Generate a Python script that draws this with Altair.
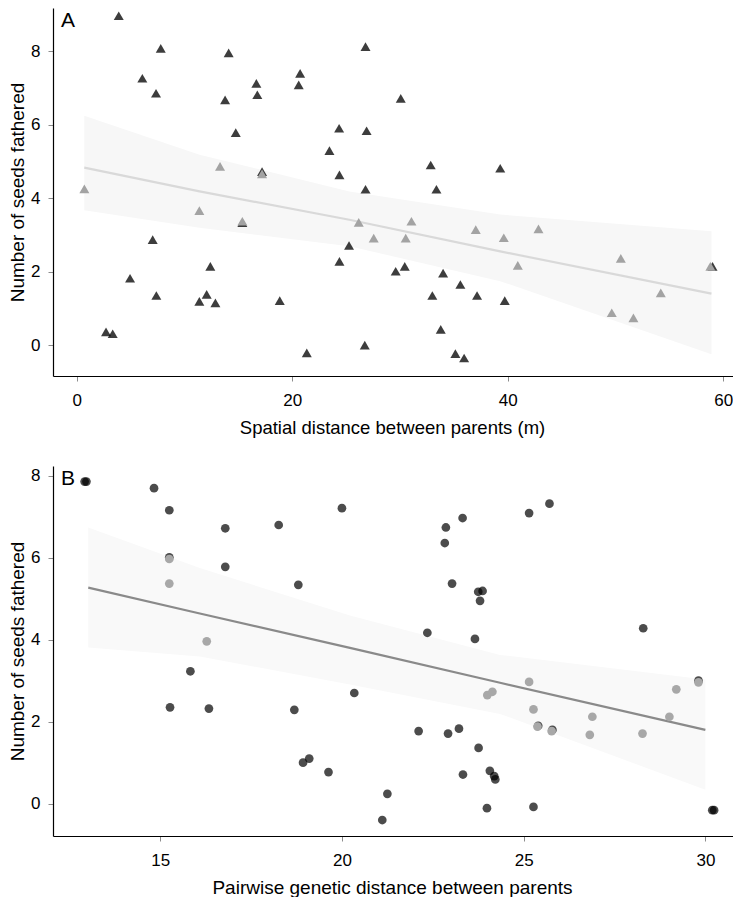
import altair as alt
import pandas as pd

# ---------------- Panel A: spatial distance ----------------
a_dark_x = [3.90, 7.80, 14.1, 6.09, 7.36, 16.67, 16.76, 13.77, 20.73, 20.6, 14.76, 24.35, 26.9, 23.45,
            24.38, 26.8, 25.27, 24.38, 7.05, 12.4, 4.95, 7.39, 12.06, 11.38, 12.87, 18.84, 2.72, 3.34,
            21.35, 26.73, 26.8, 30.07, 32.85, 39.3, 33.38, 29.6, 30.44, 34.0, 35.6, 33.0, 37.15, 39.72,
            33.78, 35.14, 35.95, 59.0, 15.37, 17.2]
a_dark_y = [8.96, 8.07, 7.95, 7.26, 6.85, 7.12, 6.81, 6.67, 7.39, 7.08, 5.78, 5.90, 5.83, 5.29,
            4.63, 4.24, 2.71, 2.28, 2.87, 2.14, 1.82, 1.35, 1.38, 1.19, 1.15, 1.21, 0.36, 0.31,
            -0.21, 0.0, 8.12, 6.71, 4.90, 4.81, 4.24, 2.01, 2.14, 1.96, 1.65, 1.35, 1.35, 1.21,
            0.43, -0.23, -0.35, 2.14, 3.33, 4.72]
a_light_x = [0.71, 13.3, 17.2, 11.38, 15.37, 26.17, 27.56, 31.06, 30.53, 37.03, 39.63, 42.85,
             40.93, 50.49, 58.8, 54.2, 49.65, 51.66]
a_light_y = [4.25, 4.86, 4.66, 3.66, 3.37, 3.34, 2.91, 3.37, 2.91, 3.14, 2.92, 3.16,
             2.17, 2.36, 2.14, 1.42, 0.88, 0.74]
a_fit_x = [0.7, 11.4, 25.3, 39.3, 58.9]
a_fit_y = [4.83, 4.18, 3.41, 2.55, 1.40]
a_fit_lo = [3.67, 3.19, 2.69, 1.74, -0.25]
a_fit_hi = [6.24, 5.18, 4.18, 3.55, 3.10]
a_ticks_x = [0, 20, 40, 60]

# ---------------- Panel B: genetic distance ----------------
b_dark_x = [12.92, 12.97, 14.83, 15.25, 16.79, 18.26, 20.0, 15.25, 16.79, 18.8, 15.83, 15.27, 16.34,
            18.69, 20.34, 18.93, 19.1, 19.63, 25.71, 25.15, 23.32, 22.86, 22.83, 23.03, 23.75, 23.87,
            23.8, 22.35, 23.66, 28.29, 29.81, 25.4, 25.79, 22.11, 22.92, 23.22, 23.76, 23.33, 24.07,
            24.19, 24.22, 21.25, 21.11, 23.99, 25.27, 30.19, 30.24]
b_dark_y = [7.86, 7.86, 7.70, 7.16, 6.72, 6.80, 7.21, 6.01, 5.78, 5.34, 3.23, 2.35, 2.32,
            2.29, 2.70, 1.00, 1.10, 0.77, 7.32, 7.09, 6.97, 6.74, 6.36, 5.37, 5.17, 5.19,
            4.95, 4.17, 4.02, 4.28, 3.00, 1.90, 1.80, 1.77, 1.71, 1.83, 1.36, 0.71, 0.80,
            0.67, 0.59, 0.24, -0.40, -0.11, -0.08, -0.16, -0.16]
b_light_x = [15.25, 15.25, 16.28, 25.15, 24.0, 24.14, 25.27, 25.38, 25.77, 26.89, 26.82, 28.27,
             29.01, 29.2, 29.81]
b_light_y = [5.97, 5.37, 3.96, 2.97, 2.65, 2.73, 2.30, 1.88, 1.77, 2.12, 1.68, 1.71,
             2.12, 2.79, 2.96]
b_fit_x = [13.02, 16.09, 20.22, 24.35, 30.0]
b_fit_y = [5.27, 4.64, 3.80, 2.95, 1.80]
b_fit_lo = [3.81, 3.59, 2.91, 2.19, 0.34]
b_fit_hi = [6.74, 5.75, 4.59, 3.63, 3.03]
b_ticks_x = [15, 20, 25, 30]

y_ticks = [0, 2, 4, 6, 8]
panel_labels = ["A", "B"]
x_titles = ["Spatial distance between parents (m)", "Pairwise genetic distance between parents"]
y_title = "Number of seeds fathered"

FONT = "Liberation Sans"


def panel(dark_x, dark_y, light_x, light_y, fx, fy, flo, fhi, xdom, ydom, xticks, xtitle, label,
          shape, size, dark_op, light_col, line_col, band_col, height, xtitle_size):
    xs = alt.Scale(domain=xdom, nice=False, zero=False)
    ys = alt.Scale(domain=ydom, nice=False, zero=False)
    xax = alt.Axis(values=xticks, title=xtitle, labelPadding=11, titlePadding=10,
                   titleFontSize=xtitle_size, titleX=339)
    yax = alt.Axis(values=y_ticks, title=y_title, labelPadding=8, titlePadding=3,
                   titleFontSize=19)

    fit = pd.DataFrame({"x": fx, "y": fy, "lo": flo, "hi": fhi})
    dark = pd.DataFrame({"x": dark_x, "y": dark_y})
    light = pd.DataFrame({"x": light_x, "y": light_y})
    lab = pd.DataFrame({"label": [label]})

    band = alt.Chart(fit).mark_area(color=band_col, opacity=1).encode(
        x=alt.X("x:Q", scale=xs, axis=xax),
        y=alt.Y("lo:Q", scale=ys, axis=yax),
        y2="hi:Q",
    )
    line = alt.Chart(fit).mark_line(color=line_col, strokeWidth=2.2).encode(
        x=alt.X("x:Q", scale=xs), y=alt.Y("y:Q", scale=ys)
    )
    dk = alt.Chart(dark).mark_point(shape=shape, filled=True, size=size, color="black",
                                    opacity=dark_op, strokeWidth=0).encode(
        x=alt.X("x:Q", scale=xs), y=alt.Y("y:Q", scale=ys)
    )
    lt = alt.Chart(light).mark_point(shape=shape, filled=True, size=size, color=light_col,
                                     opacity=1, strokeWidth=0).encode(
        x=alt.X("x:Q", scale=xs), y=alt.Y("y:Q", scale=ys)
    )
    txt = alt.Chart(lab).mark_text(font=FONT, fontSize=21, align="left", baseline="middle",
                                   color="black").encode(
        text="label:N", x=alt.value(8), y=alt.value(13)
    )
    return alt.layer(band, line, dk, lt, txt).properties(width=680, height=height)


pa = panel(a_dark_x, a_dark_y, a_light_x, a_light_y, a_fit_x, a_fit_y, a_fit_lo, a_fit_hi,
           [-2.2, 60.9], [-0.84, 9.17], a_ticks_x, x_titles[0], panel_labels[0],
           "triangle-up", 100, 0.76, "#a3a3a3", "#d9d9d9", "#f7f7f7", 368, 18.5)
pb = panel(b_dark_x, b_dark_y, b_light_x, b_light_y, b_fit_x, b_fit_y, b_fit_lo, b_fit_hi,
           [12.05, 30.76], [-0.79, 8.24], b_ticks_x, x_titles[1], panel_labels[1],
           "circle", 76, 0.7, "#a8a8a8", "#8a8a8a", "#f9f9f9", 370, 19)

chart = alt.vconcat(pa, pb, spacing=29).properties(padding=0).configure_view(
    stroke=None
).configure_axis(
    grid=False,
    domainColor="black",
    domainWidth=1.2,
    tickColor="#8c8c8c",
    tickSize=5,
    tickWidth=1,
    labelFont=FONT,
    labelFontSize=17,
    labelColor="black",
    titleFont=FONT,
    titleFontWeight="normal",
    titleColor="black",
)

chart.save("out.html", embed_options={"renderer": "svg", "actions": False})
